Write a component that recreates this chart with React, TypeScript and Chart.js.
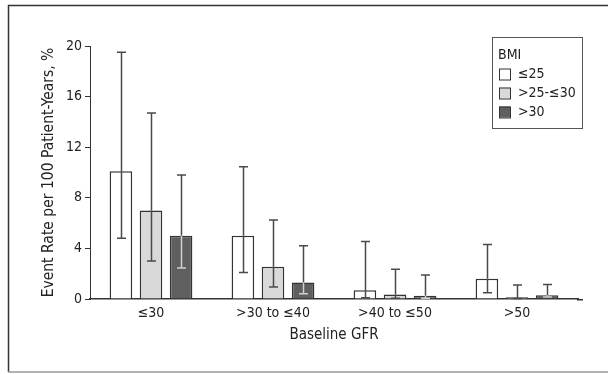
import React, { useEffect, useRef } from "react";
import { Chart, registerables } from "chart.js";

Chart.register(...registerables);

// ---- data ----
const categories = ["≤30", ">30 to ≤40", ">40 to ≤50", ">50"];
const seriesNames = ["≤25", ">25-≤30", ">30"];
const rateBmiLow = [10.1, 5.0, 0.7, 1.6];
const rateBmiMid = [7.0, 2.55, 0.35, 0.13];
const rateBmiHigh = [5.0, 1.3, 0.25, 0.3];
const lowerBmiLow = [4.8, 2.1, 0.1, 0.5];
const upperBmiLow = [19.5, 10.45, 4.55, 4.3];
const lowerBmiMid = [3.0, 0.95, 0.05, 0.03];
const upperBmiMid = [14.7, 6.25, 2.35, 1.1];
const lowerBmiHigh = [2.45, 0.42, 0.05, 0.15];
const upperBmiHigh = [9.8, 4.2, 1.9, 1.15];
const yTicks = [0, 4, 8, 12, 16, 20];
const legendTitle = "BMI";
const xTitle = "Baseline GFR";
const yTitle = "Event Rate per 100 Patient-Years, %";

// ---- styles ----
const FONT = '"DejaVu Sans Condensed", "Liberation Sans Narrow", sans-serif';
const seriesFill = ["#ffffff", "#d9d9d9", "#5f5f5f"];
const TEXT = "#222222";
const LINE = "#333333";

const seriesValues = [rateBmiLow, rateBmiMid, rateBmiHigh];
const seriesLower = [lowerBmiLow, lowerBmiMid, lowerBmiHigh];
const seriesUpper = [upperBmiLow, upperBmiMid, upperBmiHigh];

const errorBarPlugin = {
  id: "errorBars",
  afterDatasetsDraw(chart: any) {
    const ctx = chart.ctx;
    const ys = chart.scales.y;
    chart.data.datasets.forEach((_ds: any, di: number) => {
      const meta = chart.getDatasetMeta(di);
      meta.data.forEach((bar: any, i: number) => {
        const x = Math.round(bar.x) + 0.5;
        const yTop = bar.y;
        const yHi = ys.getPixelForValue(seriesUpper[di][i]);
        const yLo = ys.getPixelForValue(seriesLower[di][i]);
        const outer = "#4a4a4a";
        const inner = di === 2 ? "#d0d0d0" : outer;
        const cap = 4.5;
        ctx.save();
        ctx.lineWidth = 1.5;
        ctx.strokeStyle = outer;
        ctx.beginPath();
        ctx.moveTo(x, yHi);
        ctx.lineTo(x, yTop);
        ctx.moveTo(x - cap, yHi);
        ctx.lineTo(x + cap, yHi);
        ctx.stroke();
        ctx.strokeStyle = inner;
        ctx.beginPath();
        ctx.moveTo(x, yTop);
        ctx.lineTo(x, yLo);
        ctx.moveTo(x - cap, yLo);
        ctx.lineTo(x + cap, yLo);
        ctx.stroke();
        ctx.restore();
      });
    });
  },
};

const decorPlugin = {
  id: "decor",
  afterDraw(chart: any) {
    const ctx = chart.ctx;
    const ca = chart.chartArea;
    ctx.save();
    // extend x axis line
    ctx.strokeStyle = LINE;
    ctx.lineWidth = 1.5;
    ctx.beginPath();
    ctx.moveTo(ca.right - 1, ca.bottom + 0.75);
    ctx.lineTo(583, ca.bottom + 0.75);
    ctx.stroke();
    // outer frame
    ctx.lineWidth = 1.5;
    ctx.strokeStyle = "#333";
    ctx.beginPath();
    ctx.moveTo(8.5, 372);
    ctx.lineTo(8.5, 5.5);
    ctx.lineTo(608, 5.5);
    ctx.stroke();
    ctx.strokeStyle = "#999";
    ctx.beginPath();
    ctx.moveTo(8, 372);
    ctx.lineTo(608, 372);
    ctx.stroke();
    // legend
    ctx.lineWidth = 1;
    ctx.strokeStyle = "#555";
    ctx.strokeRect(492.5, 37.5, 90, 91);
    ctx.fillStyle = TEXT;
    ctx.font = `14px ${FONT}`;
    ctx.textBaseline = "middle";
    ctx.textAlign = "left";
    ctx.fillText(legendTitle, 498, 55);
    seriesNames.forEach((name, k) => {
      const cy = 74 + k * 19;
      ctx.fillStyle = seriesFill[k];
      ctx.fillRect(499, cy - 5.5, 11, 11);
      ctx.strokeStyle = LINE;
      ctx.strokeRect(499.5, cy - 5, 11, 11);
      ctx.fillStyle = TEXT;
      ctx.fillText(name, 518, cy + 0.5);
    });
    ctx.restore();
  },
};

export default function App() {
  const ref = useRef<HTMLCanvasElement | null>(null);
  useEffect(() => {
    if (!ref.current) return;
    const chart = new Chart(ref.current, {
      type: "bar",
      data: {
        labels: categories,
        datasets: seriesNames.map((name, k) => ({
          label: name,
          data: seriesValues[k],
          backgroundColor: seriesFill[k],
          borderColor: LINE,
          borderWidth: 1.5,
          categoryPercentage: 0.74,
          barPercentage: 0.75,
        })),
      },
      options: {
        animation: false,
        responsive: false,
        maintainAspectRatio: false,
        layout: { padding: { left: 40, right: 30, top: 46, bottom: 30 } },
        plugins: { legend: { display: false }, tooltip: { enabled: false } },
        scales: {
          x: {
            grid: { display: false, drawTicks: false },
            border: { display: true, color: LINE, width: 1.5 },
            ticks: { font: { family: FONT, size: 14 }, color: TEXT, padding: 6 },
            title: { display: true, text: xTitle, font: { family: FONT, size: 15 }, color: TEXT, padding: 0 },
            afterFit: (s: any) => {
              s.height = 45;
            },
          },
          y: {
            min: 0,
            max: 20,
            afterBuildTicks: (s: any) => {
              s.ticks = yTicks.map((v) => ({ value: v }));
            },
            ticks: { font: { family: FONT, size: 14 }, color: TEXT, padding: 3 },
            grid: { drawOnChartArea: false, drawTicks: true, tickLength: 5, color: LINE, lineWidth: 1 },
            border: { display: true, color: LINE, width: 1 },
            title: { display: true, text: yTitle, font: { family: FONT, size: 15.5 }, color: TEXT, padding: 0 },
            afterFit: (s: any) => {
              s.width = 50;
            },
          },
        },
      },
      plugins: [errorBarPlugin, decorPlugin],
    });
    return () => chart.destroy();
  }, []);
  return (
    <div style={{ position: "absolute", left: 0, top: 0, width: 608, height: 374, background: "#fff" }}>
      <canvas ref={ref} width={608} height={374} style={{ display: "block" }} />
    </div>
  );
}
